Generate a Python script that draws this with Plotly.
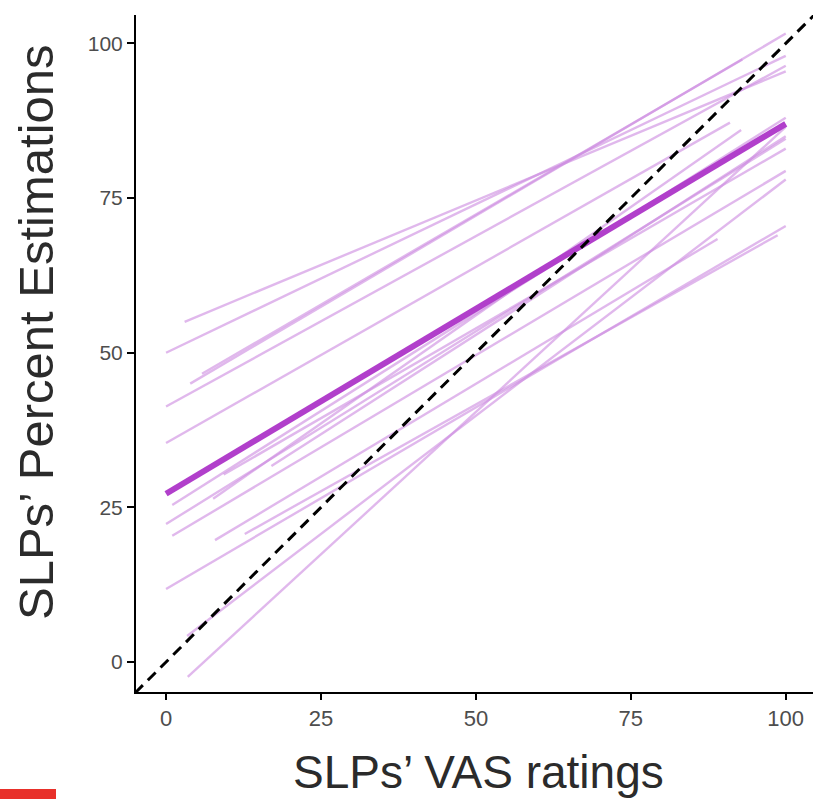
import plotly.graph_objects as go

# Individual SLP regression lines: start/end points
x_start = [3.0, 0.0, 5.8, 3.9, 0.0, 0.0, 1.0, 7.6, 0.0, 1.0, 7.9, 12.7, 0.0, 3.4, 3.5, 9.3, 17.0]
y_start = [55.0, 50.0, 46.6, 45.0, 41.3, 35.4, 25.4, 26.4, 22.3, 20.4, 19.7, 20.7, 11.8, 4.2, -2.4, 30.3, 31.7]
x_end = [100.0, 100.0, 93.0, 100.0, 100.0, 91.0, 100.0, 92.8, 100.0, 100.0, 89.0, 98.7, 100.0, 100.0, 100.0, 100.0, 100.0]
y_end = [95.5, 98.0, 97.4, 101.6, 96.4, 87.2, 88.0, 86.0, 84.6, 79.4, 68.4, 69.0, 70.5, 78.0, 86.5, 83.0, 85.0]

# Overall fit line
overall_x = [0, 100]
overall_y = [27.2, 87.0]

# Identity line
identity = [-5, 105]

x_ticks = [0, 25, 50, 75, 100]
y_ticks = [0, 25, 50, 75, 100]

PLOT_W = 677
PLOT_H = 677

fig = go.Figure()
for xs, ys, xe, ye in zip(x_start, y_start, x_end, y_end):
    fig.add_trace(go.Scatter(x=[xs, xe], y=[ys, ye], mode="lines",
                             line=dict(color="rgba(205,140,225,0.62)", width=2.4),
                             showlegend=False, hoverinfo="skip"))
fig.add_trace(go.Scatter(x=overall_x, y=overall_y, mode="lines",
                         line=dict(color="#b13fcb", width=6),
                         showlegend=False))
fig.add_trace(go.Scatter(x=identity, y=identity, mode="lines",
                         line=dict(color="black", width=3, dash="11px,7px"),
                         showlegend=False))

fig.update_layout(
    width=813, height=799,
    margin=dict(l=136, r=0, t=15, b=107),
    plot_bgcolor="white", paper_bgcolor="white",
    font=dict(family="Liberation Sans, Arial, sans-serif"),
    shapes=[dict(type="rect", xref="paper", yref="paper",
                 x0=-136 / PLOT_W, x1=-80 / PLOT_W, y0=-109 / PLOT_H, y1=-97 / PLOT_H,
                 fillcolor="#e8302a", line=dict(width=0), layer="above")],
    annotations=[
        dict(text="SLPs’ VAS ratings", xref="paper", yref="paper",
             x=(478 - 136) / PLOT_W, y=-(772 - 692) / PLOT_H,
             xanchor="center", yanchor="middle", showarrow=False,
             font=dict(size=46, color="#2b2b2b")),
        dict(text="SLPs’ Percent Estimations", xref="paper", yref="paper",
             x=(36 - 136) / PLOT_W, y=(692 - 332) / PLOT_H, textangle=-90,
             xanchor="center", yanchor="middle", showarrow=False,
             font=dict(size=49, color="#2b2b2b")),
    ],
)
fig.update_xaxes(
    range=[-4.85, 104.4], tickvals=x_ticks, ticktext=[str(v) for v in x_ticks],
    showgrid=False, zeroline=False, showline=True, linecolor="black", linewidth=2,
    ticks="outside", ticklen=6, tickwidth=1.5, tickcolor="black",
    tickfont=dict(size=22, color="#4d4d4d"),
)
fig.update_yaxes(
    range=[-4.85, 104.6], tickvals=y_ticks, ticktext=[str(v) for v in y_ticks],
    showgrid=False, zeroline=False, showline=True, linecolor="black", linewidth=2,
    ticks="outside", ticklen=7, tickwidth=1.5, tickcolor="black",
    tickfont=dict(size=21, color="#4d4d4d"),
)

fig.write_html("out.html")
